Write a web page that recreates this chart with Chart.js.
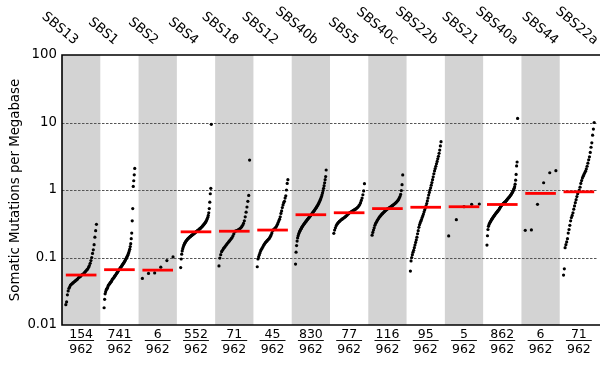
<!DOCTYPE html>
<html>
<head>
<meta charset="utf-8">
<script src="https://cdn.jsdelivr.net/npm/chart.js@4.4.1/dist/chart.umd.min.js"></script>
<style>
  html, body { margin: 0; padding: 0; background: #fff; }
  canvas { display: block; }
</style>
</head>
<body>
<canvas id="chart" width="602" height="365"></canvas>
<script>
const signatures = ["SBS13", "SBS1", "SBS2", "SBS4", "SBS18", "SBS12", "SBS40b", "SBS5", "SBS40c", "SBS22b", "SBS21", "SBS40a", "SBS44", "SBS22a"];
const sampleCounts = [154, 741, 6, 552, 71, 45, 830, 77, 116, 95, 5, 862, 6, 71];
const totalSamples = 962;
const medians = [0.055, 0.066, 0.065, 0.24, 0.245, 0.255, 0.43, 0.46, 0.53, 0.555, 0.565, 0.61, 0.89, 0.94];
const yTicks = [0.01, 0.1, 1, 10, 100];
const yTickLabels = ["0.01", "0.1", "1", "10", "100"];

const sbs13 = [0.020, 0.022, 0.028, 0.032, 0.035, 0.037, 0.039, 0.040, 0.041, 0.042, 0.043, 0.044, 0.045, 0.046, 0.047, 0.048, 0.050, 0.051, 0.052, 0.053, 0.055, 0.056, 0.057, 0.058, 0.060, 0.062, 0.064, 0.066, 0.068, 0.072, 0.076, 0.082, 0.090, 0.100, 0.115, 0.13, 0.155, 0.20, 0.25, 0.31];
const sbs1 = [0.018, 0.024, 0.029, 0.031, 0.033, 0.034, 0.035, 0.036, 0.038, 0.039, 0.040, 0.041, 0.042, 0.043, 0.044, 0.045, 0.047, 0.048, 0.049, 0.050, 0.051, 0.053, 0.054, 0.055, 0.057, 0.058, 0.060, 0.061, 0.063, 0.065, 0.066, 0.068, 0.070, 0.071, 0.073, 0.075, 0.077, 0.079, 0.081, 0.083, 0.085, 0.088, 0.091, 0.094, 0.097, 0.100, 0.104, 0.108, 0.113, 0.118, 0.125, 0.133, 0.145, 0.16, 0.19, 0.23, 0.35, 0.53, 1.13, 1.37, 1.68, 2.09];
const sbs2 = [0.049, 0.058, 0.059, 0.072, 0.090, 0.102];
const sbs4 = [0.071, 0.095, 0.112, 0.125, 0.135, 0.143, 0.150, 0.157, 0.163, 0.168, 0.173, 0.177, 0.181, 0.185, 0.189, 0.192, 0.196, 0.199, 0.202, 0.205, 0.208, 0.211, 0.214, 0.217, 0.220, 0.223, 0.226, 0.229, 0.232, 0.236, 0.240, 0.243, 0.246, 0.250, 0.253, 0.257, 0.261, 0.265, 0.269, 0.273, 0.278, 0.283, 0.288, 0.294, 0.300, 0.306, 0.313, 0.320, 0.328, 0.337, 0.347, 0.360, 0.375, 0.395, 0.42, 0.46, 0.53, 0.66, 0.88, 1.06, 9.4];
const sbs18 = [0.075, 0.098, 0.110, 0.122, 0.128, 0.135, 0.140, 0.145, 0.152, 0.158, 0.164, 0.170, 0.176, 0.183, 0.190, 0.198, 0.210, 0.225, 0.243, 0.247, 0.250, 0.253, 0.257, 0.262, 0.268, 0.276, 0.286, 0.300, 0.32, 0.35, 0.40, 0.47, 0.56, 0.68, 0.83, 2.78];
const sbs12 = [0.073, 0.095, 0.103, 0.110, 0.118, 0.126, 0.132, 0.138, 0.143, 0.150, 0.156, 0.162, 0.168, 0.172, 0.176, 0.181, 0.186, 0.190, 0.198, 0.207, 0.217, 0.230, 0.250, 0.256, 0.262, 0.268, 0.275, 0.283, 0.295, 0.31, 0.33, 0.35, 0.37, 0.40, 0.45, 0.49, 0.55, 0.60, 0.65, 0.68, 0.76, 0.82, 1.0, 1.25, 1.42];
const sbs40b = [0.080, 0.120, 0.150, 0.175, 0.195, 0.210, 0.222, 0.233, 0.243, 0.252, 0.262, 0.270, 0.279, 0.287, 0.295, 0.303, 0.311, 0.318, 0.326, 0.334, 0.342, 0.350, 0.358, 0.366, 0.374, 0.383, 0.392, 0.401, 0.410, 0.420, 0.430, 0.440, 0.450, 0.461, 0.472, 0.484, 0.496, 0.509, 0.522, 0.536, 0.551, 0.567, 0.584, 0.602, 0.622, 0.644, 0.668, 0.695, 0.725, 0.76, 0.80, 0.85, 0.91, 0.98, 1.06, 1.16, 1.28, 1.42, 1.58, 1.98];
const sbs5 = [0.228, 0.255, 0.275, 0.295, 0.31, 0.322, 0.333, 0.342, 0.35, 0.358, 0.366, 0.373, 0.38, 0.388, 0.396, 0.405, 0.415, 0.425, 0.437, 0.45, 0.46, 0.467, 0.474, 0.482, 0.49, 0.498, 0.506, 0.515, 0.525, 0.537, 0.55, 0.565, 0.585, 0.61, 0.65, 0.70, 0.76, 0.85, 0.97, 1.24];
const sbs40c = [0.214, 0.235, 0.255, 0.275, 0.30, 0.318, 0.333, 0.348, 0.362, 0.375, 0.39, 0.403, 0.415, 0.427, 0.438, 0.449, 0.46, 0.471, 0.482, 0.493, 0.505, 0.516, 0.525, 0.532, 0.54, 0.548, 0.556, 0.565, 0.575, 0.586, 0.597, 0.608, 0.62, 0.633, 0.647, 0.662, 0.68, 0.70, 0.725, 0.76, 0.80, 0.86, 0.98, 1.2, 1.67];
const sbs22b = [0.063, 0.089, 0.10, 0.11, 0.12, 0.128, 0.14, 0.153, 0.167, 0.182, 0.20, 0.225, 0.25, 0.28, 0.305, 0.325, 0.345, 0.365, 0.39, 0.415, 0.44, 0.475, 0.51, 0.545, 0.58, 0.63, 0.69, 0.76, 0.84, 0.92, 1.0, 1.08, 1.18, 1.29, 1.42, 1.57, 1.74, 1.92, 2.08, 2.25, 2.45, 2.65, 2.9, 3.15, 3.5, 3.9, 4.5, 5.2];
const sbs21 = [0.209, 0.364, 0.566, 0.614, 0.62];
const sbs40a = [0.153, 0.21, 0.26, 0.29, 0.305, 0.318, 0.33, 0.34, 0.35, 0.36, 0.37, 0.38, 0.39, 0.40, 0.41, 0.42, 0.43, 0.44, 0.45, 0.46, 0.47, 0.48, 0.49, 0.50, 0.51, 0.525, 0.54, 0.555, 0.57, 0.585, 0.60, 0.61, 0.62, 0.63, 0.64, 0.65, 0.66, 0.67, 0.68, 0.695, 0.71, 0.725, 0.74, 0.755, 0.77, 0.785, 0.80, 0.82, 0.84, 0.86, 0.885, 0.91, 0.94, 0.97, 1.01, 1.06, 1.12, 1.22, 1.4, 1.7, 2.27, 2.6, 11.5];
const sbs44 = [0.253, 0.256, 0.614, 1.28, 1.8, 1.93];
const sbs22a = [0.055, 0.068, 0.14, 0.155, 0.17, 0.19, 0.23, 0.26, 0.30, 0.35, 0.39, 0.42, 0.46, 0.52, 0.58, 0.65, 0.72, 0.80, 0.88, 0.94, 1.0, 1.1, 1.25, 1.38, 1.5, 1.6, 1.7, 1.8, 1.9, 2.05, 2.25, 2.5, 2.8, 3.1, 3.6, 4.3, 5.0, 6.5, 8.0, 10.0];

const columns = [sbs13, sbs1, sbs2, sbs4, sbs18, sbs12, sbs40b, sbs5, sbs40c, sbs22b, sbs21, sbs40a, sbs44, sbs22a];

const font = "'DejaVu Sans', sans-serif";

const datasets = [];
columns.forEach((vals, c) => {
  datasets.push({
    type: "scatter",
    data: vals.map((v, i) => ({ x: c + 0.1 + 0.8 * i / (vals.length - 1), y: v })),
    pointRadius: 1.6,
    pointBackgroundColor: "#000",
    pointBorderWidth: 0,
    order: 2,
  });
  datasets.push({
    type: "line",
    data: [{ x: c + 0.1, y: medians[c] }, { x: c + 0.9, y: medians[c] }],
    borderColor: "#ff0000",
    borderWidth: 2.8,
    pointRadius: 0,
    order: 1,
  });
});

const decor = {
  id: "decor",
  beforeDatasetsDraw(chart) {
    const { ctx, chartArea: a, scales: { x, y } } = chart;
    ctx.save();
    ctx.fillStyle = "#d3d3d3";
    for (let c = 0; c < signatures.length; c += 2) {
      const l = x.getPixelForValue(c);
      const r = x.getPixelForValue(c + 1);
      ctx.fillRect(l, a.top, r - l, a.bottom - a.top);
    }
    ctx.strokeStyle = "#555";
    ctx.lineWidth = 1;
    ctx.setLineDash([2.5, 1.5]);
    [0.1, 1, 10].forEach((v) => {
      const py = Math.round(y.getPixelForValue(v)) + 0.5;
      ctx.beginPath();
      ctx.moveTo(a.left, py);
      ctx.lineTo(a.right, py);
      ctx.stroke();
    });
    ctx.restore();
  },
  afterDatasetsDraw(chart) {
    const { ctx, chartArea: a } = chart;
    ctx.save();
    ctx.strokeStyle = "#000";
    ctx.lineWidth = 1.6;
    ctx.beginPath();
    ctx.moveTo(a.right + 2, a.top);
    ctx.lineTo(a.left, a.top);
    ctx.lineTo(a.left, a.bottom);
    ctx.lineTo(a.right + 2, a.bottom);
    ctx.stroke();
    ctx.restore();
  },
  afterDraw(chart) {
    const { ctx, scales: { x } } = chart;
    ctx.save();
    ctx.fillStyle = "#000";
    ctx.font = "13.3px " + font;
    ctx.textAlign = "right";
    ctx.textBaseline = "alphabetic";
    // signature names sit on a slightly wider pitch than the columns
    signatures.forEach((s, i) => {
      ctx.save();
      ctx.translate(74 + 40 * i, 45);
      ctx.rotate((40 * Math.PI) / 180);
      ctx.fillText(s, 0, 0);
      ctx.restore();
    });
    // fraction bars under the sample counts
    ctx.font = "12.5px " + font;
    const w = ctx.measureText(String(totalSamples)).width + 2;
    ctx.strokeStyle = "#111";
    ctx.lineWidth = 1;
    signatures.forEach((s, i) => {
      const cx = x.getPixelForValue(i + 0.5);
      ctx.beginPath();
      ctx.moveTo(cx - w / 2, 340.5);
      ctx.lineTo(cx + w / 2, 340.5);
      ctx.stroke();
    });
    ctx.restore();
  },
};

new Chart(document.getElementById("chart").getContext("2d"), {
  type: "scatter",
  data: { datasets: datasets },
  plugins: [decor],
  options: {
    responsive: false,
    animation: false,
    devicePixelRatio: 1,
    layout: { padding: { top: 55, right: 0, bottom: 0, left: 0 } },
    plugins: { legend: { display: false }, tooltip: { enabled: false } },
    scales: {
      x: {
        type: "linear",
        min: 0,
        max: 14,
        grid: { display: false, drawTicks: false },
        border: { display: false },
        afterBuildTicks(s) {
          s.ticks = signatures.map((_, i) => ({ value: i + 0.5 }));
        },
        afterFit(s) {
          s.height = 40;
        },
        ticks: {
          autoSkip: false,
          maxRotation: 0,
          padding: 2,
          color: "#000",
          font: { family: font, size: 12.5, lineHeight: 1.2 },
          callback: (v, i) => [String(sampleCounts[i]), String(totalSamples)],
        },
      },
      y: {
        type: "logarithmic",
        min: 0.01,
        max: 100,
        grid: { display: false, drawTicks: false },
        border: { display: false },
        afterBuildTicks(s) {
          s.ticks = yTicks.map((v) => ({ value: v }));
        },
        afterFit(s) {
          s.width = 62;
        },
        ticks: {
          padding: 5,
          color: "#000",
          font: { family: font, size: 13.3 },
          callback: (v) => yTickLabels[yTicks.indexOf(v)],
        },
        title: {
          display: true,
          text: "Somatic Mutations per Megabase",
          color: "#000",
          font: { family: font, size: 13.3 },
          padding: { top: 8, bottom: 0 },
        },
      },
    },
  },
});
</script>
</body>
</html>
